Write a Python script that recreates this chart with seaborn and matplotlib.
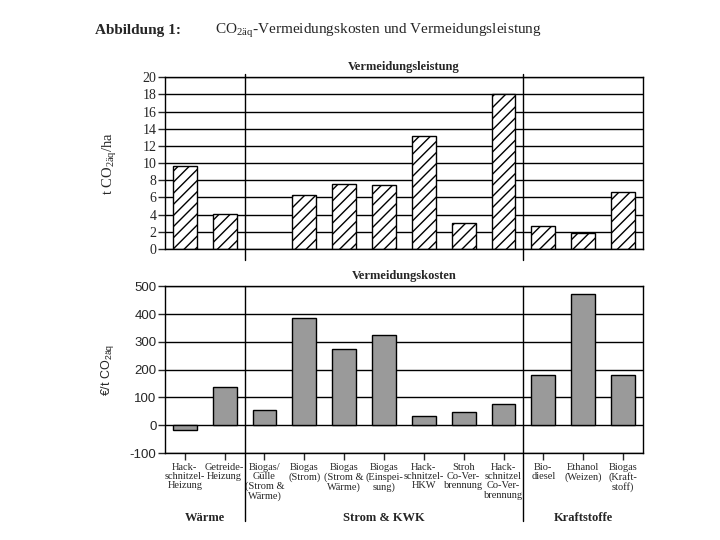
import numpy as np
import pandas as pd
import matplotlib
matplotlib.use("Agg")
import matplotlib.pyplot as plt
import seaborn as sns

# Kategorien (Beschriftung unten) und Gruppen
kategorien = ["Hack-\nschnitzel-\nHeizung", "Getreide-\nHeizung",
              "Biogas/\nGülle\n(Strom &\nWärme)", "Biogas\n(Strom)",
              "Biogas\n(Strom &\nWärme)", "Biogas\n(Einspei-\nsung)",
              "Hack-\nschnitzel-\nHKW", "Stroh\nCo-Ver-\nbrennung",
              "Hack-\nschnitzel\nCo-Ver-\nbrennung", "Bio-\ndiesel",
              "Ethanol\n(Weizen)", "Biogas\n(Kraft-\nstoff)"]
gruppen = ["Wärme", "Strom & KWK", "Kraftstoffe"]
gruppen_grenzen = [1.5, 8.5]

# Vermeidungsleistung (t CO2äq/ha), Biogas/Gülle ohne Wert
leistung = [9.7, 4.1, np.nan, 6.3, 7.6, 7.4, 13.1, 3.0, 18.0, 2.7, 1.9, 6.6]
# Vermeidungskosten (EUR/t CO2äq)
kosten = [-17, 136, 56, 384, 275, 326, 34, 47, 78, 179, 471, 179]

sns.set_style("white")
plt.rcParams['font.family'] = ['Liberation Serif', 'DejaVu Serif']
plt.rcParams['mathtext.fontset'] = 'custom'
plt.rcParams['mathtext.rm'] = 'Liberation Serif'
plt.rcParams['mathtext.sf'] = 'Liberation Sans'
plt.rcParams['hatch.linewidth'] = 1.0
plt.rcParams['axes.unicode_minus'] = False

df = pd.DataFrame({"kat": kategorien, "leistung": leistung, "kosten": kosten})

fig = plt.figure(figsize=(7.2, 5.4), dpi=100)
ax1 = fig.add_axes([0.229, 0.539, 0.664, 0.318])
ax2 = fig.add_axes([0.229, 0.161, 0.664, 0.309])

# --- oben: Vermeidungsleistung ---
sns.barplot(data=df, x="kat", y="leistung", order=kategorien, ax=ax1,
            color="white", edgecolor="black", linewidth=1.0, width=0.6,
            hatch="///", errorbar=None)
ax1.set_ylim(0, 20)
ax1.set_yticks(range(0, 21, 2))
ax1.set_xlim(-0.5, 11.5)
ax1.set_xticks(range(len(kategorien)))
ax1.set_xticklabels([])
ax1.tick_params(axis="x", length=0)
ax1.tick_params(axis="y", direction="out", length=5, width=1, labelsize=10, pad=1, left=True)
ax1.yaxis.grid(True, color="black", linewidth=1)
ax1.set_axisbelow(True)
ax1.set_xlabel("")
ax1.set_ylabel("t CO$_\\mathrm{2äq}$/ha", fontsize=10.5, labelpad=17)
ax1.set_title("Vermeidungsleistung", fontsize=9, fontweight="bold", pad=5)
for s in ax1.spines.values():
    s.set_color("black")
    s.set_linewidth(1)
for g in gruppen_grenzen:
    ax1.axvline(g, ymin=-0.065, ymax=1.02, color="black", linewidth=1, clip_on=False)

# --- unten: Vermeidungskosten ---
sns.barplot(data=df, x="kat", y="kosten", order=kategorien, ax=ax2,
            color="#9a9a9a", saturation=1, edgecolor="black", linewidth=1.0,
            width=0.6, errorbar=None)
ax2.set_ylim(-100, 500)
ax2.set_yticks(range(-100, 501, 100))
ax2.set_xlim(-0.5, 11.5)
ax2.set_xticks(range(len(kategorien)))
ax2.set_xticklabels(kategorien, fontsize=7.5, linespacing=1.05, va="top")
ax2.tick_params(axis="x", direction="out", length=5, width=1, pad=2, bottom=True)
ax2.tick_params(axis="y", direction="out", length=5, width=1, pad=1, left=True)
for lab in ax2.get_yticklabels():
    lab.set_family("Liberation Sans")
    lab.set_fontsize(9.5)
ax2.yaxis.grid(True, color="black", linewidth=1)
ax2.set_axisbelow(True)
ax2.set_xlabel("")
ax2.set_ylabel("€/t CO$_\\mathsf{2äq}$", fontsize=9, family="Liberation Sans", labelpad=10)
ax2.set_title("Vermeidungskosten", fontsize=9, fontweight="bold", pad=5)
for s in ax2.spines.values():
    s.set_color("black")
    s.set_linewidth(1)
for g in gruppen_grenzen:
    ax2.axvline(g, ymin=-0.41, ymax=1.0, color="black", linewidth=1, clip_on=False)

# Gruppenbeschriftung
gruppen_mitte = [0.5, 5.0, 10.0]
for name, xm in zip(gruppen, gruppen_mitte):
    ax2.text(xm, -0.39, name, transform=ax2.get_xaxis_transform(),
             ha="center", va="center", fontsize=9, fontweight="bold")

# Abbildungstitel
fig.text(0.132, 0.944, "Abbildung 1:", fontsize=11, fontweight="bold", va="center")
fig.text(0.299, 0.944, "CO$_\\mathrm{2äq}$-Vermeidungskosten und Vermeidungsleistung",
         fontsize=11, va="center")

fig.savefig("out.png", dpi=100)
